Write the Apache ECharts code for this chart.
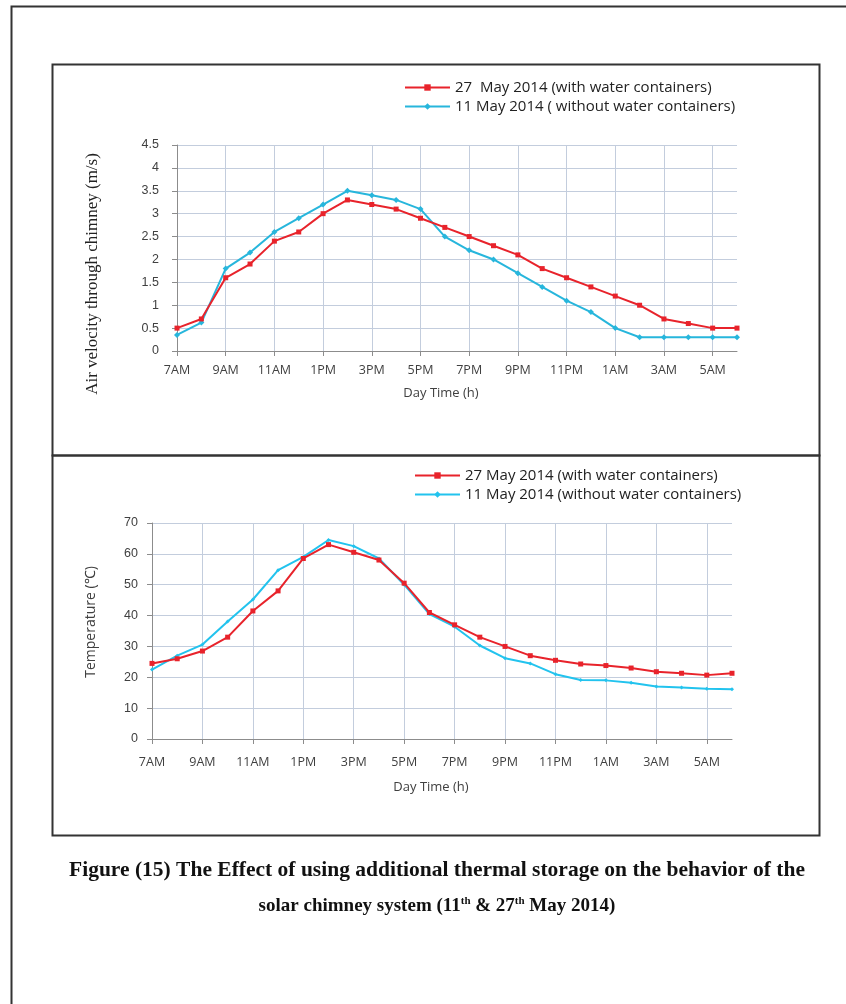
<!DOCTYPE html>
<html><head><meta charset="utf-8">
<script src="https://cdn.jsdelivr.net/npm/echarts@6/dist/echarts.min.js"></script>
<style>html,body{margin:0;padding:0;background:#fff}#c{width:846px;height:1004px}</style>
</head><body><div id="c"></div>
<script>
const hours = ['7AM','8AM','9AM','10AM','11AM','12PM','1PM','2PM','3PM','4PM','5PM','6PM','7PM','8PM','9PM','10PM','11PM','12AM','1AM','2AM','3AM','4AM','5AM','6AM'];
const velWith = [0.5,0.7,1.6,1.9,2.4,2.6,3.0,3.3,3.2,3.1,2.9,2.7,2.5,2.3,2.1,1.8,1.6,1.4,1.2,1.0,0.7,0.6,0.5,0.5];
const velWithout = [0.35,0.62,1.8,2.15,2.6,2.9,3.2,3.5,3.4,3.3,3.1,2.5,2.2,2.0,1.7,1.4,1.1,0.85,0.5,0.3,0.3,0.3,0.3,0.3];
const tempWith = [24.5,26,28.5,33,41.5,48,58.5,63,60.5,58,50.5,41,37,33,30,27,25.5,24.3,23.8,23,21.8,21.3,20.7,21.3];
const tempWithout = [22.5,27,30.6,38.1,45.2,54.7,59,64.5,62.5,58.5,50,40.5,36.4,30.3,26.2,24.5,21,19.1,19,18.2,17,16.7,16.3,16.1];
const velNames = ['27  May 2014 (with water containers)','11 May 2014 ( without water containers)'];
const tempNames = ['27 May 2014 (with water containers)','11 May 2014 (without water containers)'];

const RED = '#e8232b', BLUE = '#27b6dc', BLUE2 = '#22c3ee';
const gridCol = '#c3cddd', axisCol = '#8c8c8c', txt = '#404040';
const FONT = 'Liberation Sans', WFONT = 'Open Sans';

function xAx(gi,m){return {type:'category',gridIndex:gi,data:hours,boundaryGap:false,
  axisLine:{lineStyle:{color:axisCol,width:1}},
  axisTick:{show:true,interval:1,length:5,lineStyle:{color:axisCol}},
  axisLabel:{interval:1,color:txt,fontFamily:WFONT,fontSize:12.5,margin:m},
  splitLine:{show:true,interval:1,lineStyle:{color:gridCol,width:1}}};}
function yAx(gi,max,iv,m){return {type:'value',gridIndex:gi,min:0,max:max,interval:iv,
  axisLine:{show:true,lineStyle:{color:axisCol,width:1}},
  axisTick:{show:true,length:5,lineStyle:{color:axisCol}},
  axisLabel:{color:txt,fontFamily:FONT,fontSize:12.5,margin:m},
  splitLine:{show:true,lineStyle:{color:gridCol,width:1}}};}
function ser(name,data,color,gi,sym,sz){return {name:name,type:'line',xAxisIndex:gi,yAxisIndex:gi,data:data,
  symbol:sym,symbolSize:sz,showSymbol:true,lineStyle:{color:color,width:2},itemStyle:{color:color},
  emphasis:{disabled:true},animation:false,z:color===RED?3:2};}

const chart = echarts.init(document.getElementById('c'),null,{renderer:'canvas'});
chart.setOption({
  animation:false,
  backgroundColor:'#fff',
  grid:[{left:177,right:109,top:145,bottom:653},{left:152,right:114,top:523,bottom:265}],
  xAxis:[xAx(0,13),xAx(1,17)],
  yAxis:[yAx(0,4.5,0.5,18),yAx(1,70,10,14)],
  legend:[
    {data:velNames,orient:'vertical',left:399,top:75,itemWidth:45,itemHeight:8,itemGap:4,
     textStyle:{fontFamily:WFONT,fontSize:15,color:'#222'}},
    {data:tempNames,orient:'vertical',left:409,top:463,itemWidth:45,itemHeight:8,itemGap:4,
     textStyle:{fontFamily:WFONT,fontSize:15,color:'#222'}}
  ],
  series:[
    ser(velNames[0],velWith,RED,0,'rect',5),
    ser(velNames[1],velWithout,BLUE,0,'diamond',6),
    ser(tempNames[0],tempWith,RED,1,'rect',5),
    ser(tempNames[1],tempWithout,BLUE2,1,'diamond',4)
  ],
  graphic:[
    {type:'polyline',shape:{points:[[11.5,1004],[11.5,6.5],[846,6.5]]},style:{stroke:'#333',lineWidth:2,fill:null},silent:true},
    {type:'rect',shape:{x:52.5,y:64.5,width:767,height:391},style:{stroke:'#333',lineWidth:2,fill:null},silent:true},
    {type:'rect',shape:{x:52.5,y:455.5,width:767,height:380},style:{stroke:'#333',lineWidth:2,fill:null},silent:true},
    {type:'text',x:93,y:274,rotation:Math.PI/2,style:{text:'Air velocity through chimney (m/s)',font:'17px "Liberation Serif"',fill:'#222',align:'center',verticalAlign:'middle'},silent:true},
    {type:'text',x:91,y:622,rotation:Math.PI/2,style:{text:'Temperature (℃)',font:'14px "Open Sans"',fill:txt,align:'center',verticalAlign:'middle'},silent:true},
    {type:'text',x:441,y:393,style:{text:'Day Time (h)',font:'13px "Open Sans"',fill:txt,align:'center',verticalAlign:'middle'},silent:true},
    {type:'text',x:431,y:787,style:{text:'Day Time (h)',font:'13px "Open Sans"',fill:txt,align:'center',verticalAlign:'middle'},silent:true},
    {type:'text',x:437,y:870,style:{text:'Figure (15) The Effect of using additional thermal storage on the behavior of the',font:'bold 21.5px "Liberation Serif"',fill:'#111',align:'center',verticalAlign:'middle'},silent:true},
    {type:'text',x:437,y:906,style:{text:'solar chimney system (11{s|th} & 27{s|th} May 2014)',font:'bold 19px "Liberation Serif"',fill:'#111',align:'center',verticalAlign:'middle',
      rich:{s:{font:'bold 11px "Liberation Serif"',fill:'#111',verticalAlign:'top',padding:[0,0,9,0]}}},silent:true}
  ]
});
</script></body></html>
